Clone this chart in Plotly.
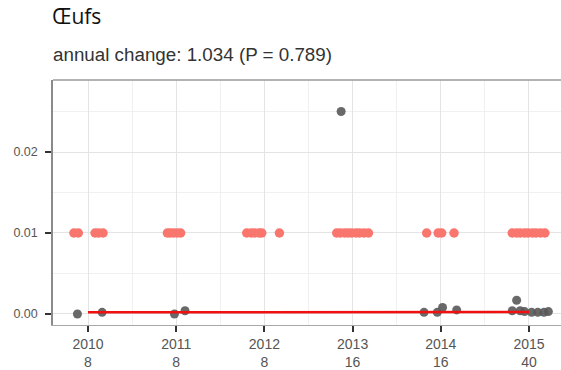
import plotly.graph_objects as go

# Sampling dates (decimal years) and measured values
red_years = [2009.84, 2009.89, 2010.08, 2010.12, 2010.17,
             2010.90, 2010.93, 2010.97, 2011.01, 2011.05,
             2011.80, 2011.85, 2011.89, 2011.94, 2011.97, 2012.17,
             2012.82, 2012.86, 2012.91, 2012.95, 2012.99, 2013.04, 2013.08, 2013.13, 2013.18,
             2013.84, 2013.97, 2014.01, 2014.15,
             2014.81, 2014.86, 2014.90, 2014.95, 2014.99, 2015.04, 2015.08, 2015.13, 2015.18]
red_vals = [0.01] * len(red_years)

grey_years = [2009.88, 2010.16,
              2010.98, 2011.10,
              2012.87,
              2013.81, 2013.96, 2014.02, 2014.18,
              2014.81, 2014.86, 2014.90, 2014.95, 2015.03, 2015.10, 2015.17, 2015.22]
grey_vals = [0.0, 0.0002,
             0.0, 0.0004,
             0.025,
             0.0002, 0.0002, 0.0008, 0.0005,
             0.0004, 0.0017, 0.0004, 0.0003, 0.0002, 0.0002, 0.0002, 0.0003]

trend_years = [2010, 2015]
trend_vals = [0.0002, 0.000236]

tick_years = [2010, 2011, 2012, 2013, 2014, 2015]
tick_counts = [8, 8, 8, 16, 16, 40]
y_ticks = [0.0, 0.01, 0.02]
y_tick_labels = ["0.00", "0.01", "0.02"]
half_years = [2009.5, 2010.5, 2011.5, 2012.5, 2013.5, 2014.5]
y_minor = [0.005, 0.015, 0.025]

fig = go.Figure()
fig.add_trace(go.Scatter(x=red_years, y=red_vals, mode="markers",
                         marker=dict(color="#F8766D", size=9.5, line=dict(width=0)),
                         showlegend=False))
fig.add_trace(go.Scatter(x=grey_years, y=grey_vals, mode="markers",
                         marker=dict(color="#595959", size=9, opacity=0.9, line=dict(width=0)),
                         showlegend=False))
fig.add_trace(go.Scatter(x=trend_years, y=trend_vals, mode="lines",
                         line=dict(color="#F01010", width=2.5),
                         showlegend=False))

fig.update_layout(
    width=561, height=370,
    margin=dict(l=53, r=0, t=80, b=45),
    paper_bgcolor="white", plot_bgcolor="white",
    font=dict(family="Liberation Sans, Arial, sans-serif", color="#4D4D4D"),
    annotations=[
        dict(text="Œufs", xref="paper", yref="paper", x=0, y=1.262,
             xanchor="left", yanchor="middle", xshift=-3, showarrow=False,
             font=dict(family="Open Sans", size=21, color="#111111")),
        dict(text="annual change: 1.034 (P = 0.789)", xref="paper", yref="paper",
             x=0, y=1.104, xanchor="left", yanchor="middle", xshift=-2, showarrow=False,
             font=dict(family="Liberation Sans, Arial", size=18.8, color="#333333")),
    ],
    # panel top border
    shapes=[dict(type="line", xref="paper", yref="paper", x0=0, x1=1, y0=1, y1=1,
                 line=dict(color="#9A9A9A", width=1.5))],
)

fig.update_xaxes(
    range=[2009.603, 2015.363],
    tickmode="array", tickvals=tick_years,
    ticktext=[f"{y}<br>{n}" for y, n in zip(tick_years, tick_counts)],
    tickfont=dict(size=14, color="#555555"),
    ticks="outside", ticklen=6, tickwidth=1.5, tickcolor="#333333",
    showgrid=True, gridcolor="#E4E4E4", gridwidth=1,
    minor=dict(tickmode="array", tickvals=half_years, showgrid=True,
               gridcolor="#F0F0F0", ticks=""),
    showline=True, linecolor="#A8A8A8", linewidth=1.2, mirror=False,
    zeroline=False,
)
fig.update_yaxes(
    range=[-0.00136, 0.02889],
    tickmode="array", tickvals=y_ticks, ticktext=y_tick_labels,
    tickfont=dict(size=12.5, color="#555555"),
    ticks="outside", ticklen=6, tickwidth=1.5, tickcolor="#333333",
    ticklabelstandoff=5,
    showgrid=True, gridcolor="#E4E4E4", gridwidth=1,
    minor=dict(tickmode="array", tickvals=y_minor, showgrid=True,
               gridcolor="#F0F0F0", ticks=""),
    showline=True, linecolor="#8A8A8A", linewidth=1.5,
    zeroline=False,
)

fig.write_html("out.html")
